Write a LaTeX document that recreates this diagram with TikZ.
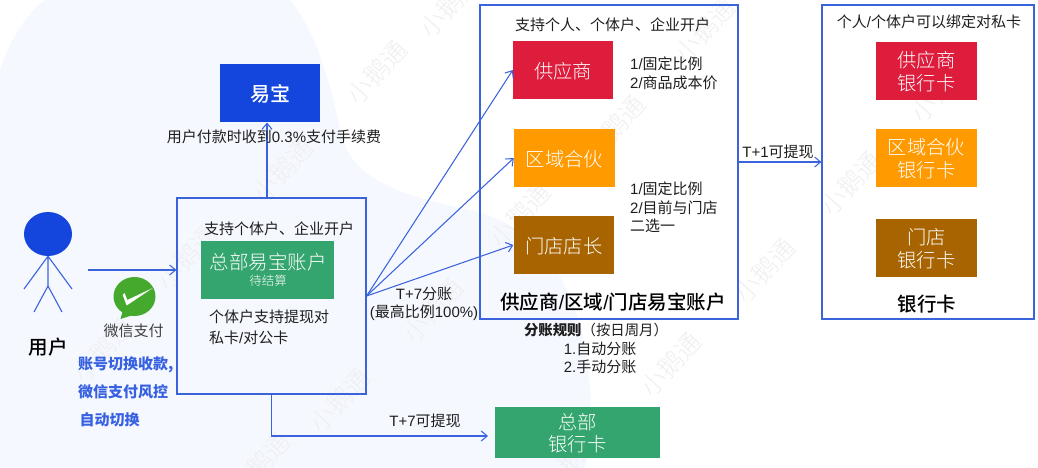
\documentclass[tikz,border=0pt]{standalone}
\usepackage{fontspec}
\setmainfont{Noto Sans CJK SC}
\newfontfamily\lat{Liberation Sans}
\newfontfamily\med[UprightFont=* Medium]{Noto Sans CJK SC}
\newfontfamily\lite[UprightFont=* Light]{Noto Sans CJK SC}
\usetikzlibrary{arrows.meta,shapes.geometric}
\definecolor{lineblue}{HTML}{3A63DC}
\definecolor{deepblue}{HTML}{1445DC}
\definecolor{cardgreen}{HTML}{34A56F}
\definecolor{cardred}{HTML}{DE1C3C}
\definecolor{cardorange}{HTML}{FF9A00}
\definecolor{cardbrown}{HTML}{A86400}
\definecolor{blobbg}{HTML}{F5F8FF}
\definecolor{wmgray}{HTML}{EFEFF1}
\definecolor{txt}{HTML}{1E1E1E}
\definecolor{wechat}{HTML}{45A92E}
\newcommand{\fs}[1]{\fontsize{#1}{#1}\selectfont}
\tikzset{
  x=1pt,y=-1pt,
  frame/.style={draw=lineblue,line width=1.15pt,fill=none,inner sep=0pt,rectangle},
  card/.style={inner sep=0pt,rectangle,text=white,align=center,font=\lite\fs{19.3},text depth=0pt},
  lab/.style={inner sep=0pt,text=txt,font=\fs{15},align=left},
  head/.style={inner sep=0pt,text=black,font=\med\fs{19.5},align=center},
  bluetxt/.style={inner sep=0pt,text=deepblue!85!white,font=\fs{15}\bfseries,anchor=west},
  conn/.style={draw=lineblue,line width=1.05pt,-{Straight Barb[length=6pt,width=10pt,line width=1.05pt]}},
  limb/.style={draw=lineblue,line width=1.1pt},
  wm/.style={text=wmgray,font=\lite\fs{25},rotate=48,inner sep=0pt},
}
\begin{document}
\begin{tikzpicture}
\path[use as bounding box,fill=white] (0,0) rectangle (1038,468);
\begin{scope}
\clip (0,0) rectangle (1038,468);
\fill[blobbg] (0,70) .. controls (10,40) and (25,15) .. (45,0) -- (290,0)
  .. controls (315,30) and (330,80) .. (340,130)
  .. controls (350,180) and (400,195) .. (470,210)
  .. controls (540,225) and (585,290) .. (590,390)
  .. controls (592,420) and (590,450) .. (585,468) -- (0,468) -- cycle;
\foreach \wx/\wy [count=\wi] in {377/72,283/170,450/5,520/215,705/30,615/127,851/183,941/90,765/270,671/364,340/400,433/310,187/257,103/350,260/464,571/460}
  \node[wm] (wm\wi) at (\wx,\wy) {小鹅通};
\end{scope}

% person
\node[ellipse,fill=deepblue,minimum width=48pt,minimum height=44pt,inner sep=0pt] (userhead) at (48,234) {};
\coordinate (hip) at (48,286);
\coordinate (handl) at (24,289);
\coordinate (handr) at (72,289);
\coordinate (footl) at (34,312);
\coordinate (footr) at (62,312);
\draw[limb] (userhead.south) -- (hip) (userhead.south) -- (handl) (userhead.south) -- (handr) (hip) -- (footl) (hip) -- (footr);
\node[head] (userlabel) at (48,347) {用户};

% wechat icon
\node[ellipse,fill=wechat,minimum width=42pt,minimum height=39pt,inner sep=0pt] (wxicon) at (134.5,296.5) {};
\fill[wechat] (123,310) -- (120.5,319) -- (133,315) -- cycle;
\fill[white] (122.7,295) -- (126.7,305.5) -- (152.7,288) -- (127.3,300) -- (124.5,293) -- cycle;
\node[inner sep=0pt,text=txt!85,font=\fs{15}] (wxlabel) at (133.5,331) {微信支付};
\node[bluetxt] (bt1) at (78,365) {账号切换收款,};
\node[bluetxt] (bt2) at (78,392) {微信支付风控};
\node[bluetxt] (bt3) at (79.5,420) {自动切换};

% headquarters
\node[frame,minimum width=189pt,minimum height=196pt] (main) at (271.5,296) {};
\node[lab,anchor=west] (maintop) at (204,229) {支持个体户、企业开户};
\node[rectangle,fill=cardgreen,minimum width=133pt,minimum height=58pt,inner sep=0pt] (hq) at (267.5,270) {};
\node[inner sep=0pt,text=white,font=\lite\fs{19.5}] (hqname) at (268,262) {总部易宝账户};
\node[inner sep=0pt,text=white,font=\lite\fs{12.5}] (hqsub) at (268,281) {待结算};
\node[lab,anchor=north west] (mainnote) at (209,310) {个体户支持提现对\\[5.5pt]私卡{\lat/}对公卡};

% yibao
\node[card,fill=deepblue,minimum width=100pt,minimum height=58pt,font=\med\fs{20}] (yibao) at (270,93) {易宝};
\coordinate (mainOut) at (267,198);
\coordinate (yibaoIn) at (267,122.5);
\draw[conn] (mainOut) -- (yibaoIn);
\node[lab] (fee) at (274,137) {用户付款时收到{\lat 0.3\%}支付手续费};

% pay arrow
\coordinate (payStart) at (88,270);
\draw[conn] (payStart) -- (payStart -| main.west);

% middle box
\node[frame,minimum width=258pt,minimum height=314pt] (mid) at (609,162) {};
\node[lab,anchor=west] (midtop) at (515,25) {支持个人、个体户、企业开户};
\node[card,fill=cardred,minimum width=100pt,minimum height=58.5pt] (sup) at (563,70) {供应商};
\node[card,fill=cardorange,minimum width=101pt,minimum height=58pt] (reg) at (564.5,158) {区域合伙};
\node[card,fill=cardbrown,minimum width=100.5pt,minimum height=58pt] (sto) at (563.75,245) {门店店长};
\node[lab,anchor=north west] (note1) at (630,57) {{\lat 1/}固定比例\\[3.5pt]{\lat 2/}商品成本价};
\node[lab,anchor=north west] (note2) at (630,182) {{\lat 1/}固定比例\\[3.5pt]{\lat 2/}目前与门店\\[3.5pt]二选一};
\node[head,text=black] (midname) at (613,302) {供应商{\lat/}区域{\lat/}门店易宝账户};

% split arrows
\draw[conn] (main.east) -- (sup.west);
\draw[conn] (main.east) -- (reg.west);
\draw[conn] (main.east) -- (sto.west);
\node[lab,align=center] (split) at (424,304) {{\lat T+7}分账\\[2.5pt]{\lat(}最高比例{\lat 100\%)}};

\node[inner sep=0pt,text=txt,font=\fs{14.4}] (rule) at (596,330) {\textbf{分账规则}（按日周月）};
\node[lab,align=center] (rule1) at (600,349) {{\lat 1.}自动分账};
\node[lab,align=center] (rule2) at (600,367) {{\lat 2.}手动分账};

% right box
\node[frame,minimum width=212pt,minimum height=314pt] (bank) at (928,162) {};
\draw[conn] (mid.east) -- (bank.west);
\node[inner sep=0pt,text=txt,font=\fs{15}] (tplus) at (778,152) {{\lat T+1}可提现};
\node[lab] (banktop) at (929,22) {个人{\lat/}个体户可以绑定对私卡};
\node[card,fill=cardred,minimum width=101pt,minimum height=58pt] (c1) at (926.5,71) {供应商\\[4pt]银行卡};
\node[card,fill=cardorange,minimum width=101pt,minimum height=58pt] (c2) at (926.5,158) {区域合伙\\[4pt]银行卡};
\node[card,fill=cardbrown,minimum width=101pt,minimum height=58pt] (c3) at (926.5,248) {门店\\[4pt]银行卡};
\node[head] (bankname) at (927,304) {银行卡};

% bottom
\node[card,fill=cardgreen,minimum width=165pt,minimum height=51pt] (hqcard) at (577.5,432.5) {总部\\[3pt]银行卡};
\coordinate (hqIn) at (488,436);
\draw[conn] (main.south) |- (hqIn);
\node[inner sep=0pt,text=txt,font=\fs{15}] (withdraw) at (425,421) {{\lat T+7}可提现};
\end{tikzpicture}
\end{document}
